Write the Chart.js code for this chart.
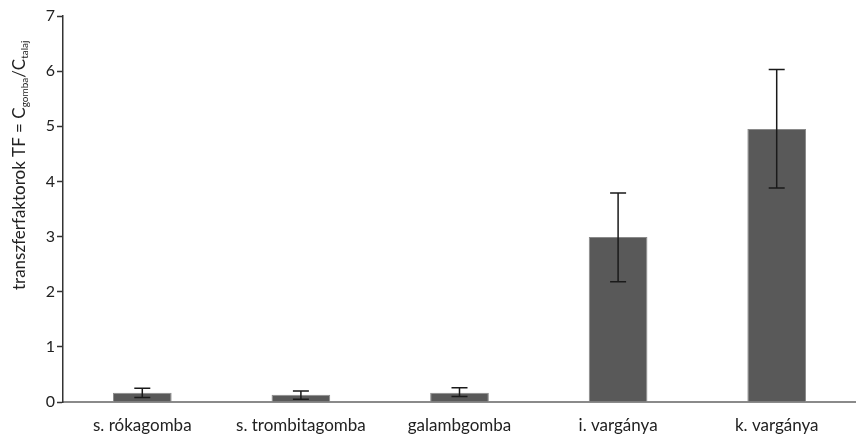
<!DOCTYPE html>
<html>
<head>
<meta charset="utf-8">
<script src="https://cdn.jsdelivr.net/npm/chart.js@4.4.1/dist/chart.umd.min.js"></script>
<style>
    html, body { margin: 0; padding: 0; background: #fff; }
    #wrap { width: 856px; height: 436px; }
</style>
</head>
<body>
<div id="wrap"><canvas id="tfChart"></canvas></div>
<script>
const categories = ["s. rókagomba", "s. trombitagomba", "galambgomba", "i. vargánya", "k. vargánya"];
const tfValues = [0.17, 0.13, 0.17, 2.99, 4.95];
const errLow = [0.08, 0.05, 0.10, 2.18, 3.88];
const errHigh = [0.25, 0.20, 0.26, 3.79, 6.03];
const yTicks = [0, 1, 2, 3, 4, 5, 6, 7];

const FONT = "Lato, 'Open Sans', sans-serif";

// error bars drawn on top of the bars
const errorBars = {
    id: "errorBars",
    afterDatasetsDraw(chart) {
        const ctx = chart.ctx;
        const meta = chart.getDatasetMeta(0);
        const y = chart.scales.y;
        ctx.save();
        ctx.strokeStyle = "#1a1a1a";
        ctx.lineWidth = 1.5;
        meta.data.forEach((bar, i) => {
            const x = bar.x;
            const top = y.getPixelForValue(errHigh[i]);
            const bot = y.getPixelForValue(errLow[i]);
            ctx.beginPath();
            ctx.moveTo(x, top);
            ctx.lineTo(x, bot);
            ctx.moveTo(x - 8, top);
            ctx.lineTo(x + 8, top);
            ctx.moveTo(x - 8, bot);
            ctx.lineTo(x + 8, bot);
            ctx.stroke();
        });
        ctx.restore();
    },
};

// rotated y title with subscripts
const yTitle = {
    id: "yTitle",
    afterDraw(chart) {
        const ctx = chart.ctx;
        ctx.save();
        ctx.translate(25, 290);
        ctx.rotate(-Math.PI / 2);
        ctx.fillStyle = "#222";
        ctx.textBaseline = "alphabetic";
        ctx.textAlign = "left";
        const parts = [
            ["transzferfaktorok TF = C", 17, 0],
            ["gomba", 10, 3],
            ["/C", 17, 0],
            ["talaj", 10, 3],
        ];
        let x = 0;
        parts.forEach(([t, size, dy]) => {
            ctx.font = size + "px " + FONT;
            ctx.fillText(t, x, dy);
            x += ctx.measureText(t).width;
        });
        ctx.restore();
    },
};

new Chart(document.getElementById("tfChart"), {
    type: "bar",
    data: {
        labels: categories,
        datasets: [
            {
                data: tfValues,
                backgroundColor: "#595959",
                borderColor: "#8a8a8a",
                borderWidth: 1,
                categoryPercentage: 1,
                barPercentage: 0.37,
            },
        ],
    },
    options: {
        responsive: true,
        maintainAspectRatio: false,
        animation: false,
        layout: { padding: { top: 16, right: 0, left: 0, bottom: 0 } },
        plugins: {
            legend: { display: false },
            tooltip: { enabled: false },
        },
        scales: {
            x: {
                grid: { display: false },
                border: { color: "#8a8a8a", width: 2 },
                ticks: { color: "#222", font: { family: FONT, size: 17 }, padding: 5, maxRotation: 0 },
                afterFit(scale) { scale.height = 34; },
            },
            y: {
                min: 0,
                max: 7,
                afterBuildTicks(scale) { scale.ticks = yTicks.map((v) => ({ value: v })); },
                grid: { drawOnChartArea: false, tickLength: 6, color: "#333", tickWidth: 1.5 },
                border: { color: "#333", width: 1.5 },
                ticks: { color: "#222", font: { family: FONT, size: 16 }, padding: 2 },
                afterFit(scale) { scale.width = 63; },
            },
        },
    },
    plugins: [errorBars, yTitle],
});
</script>
</body>
</html>
